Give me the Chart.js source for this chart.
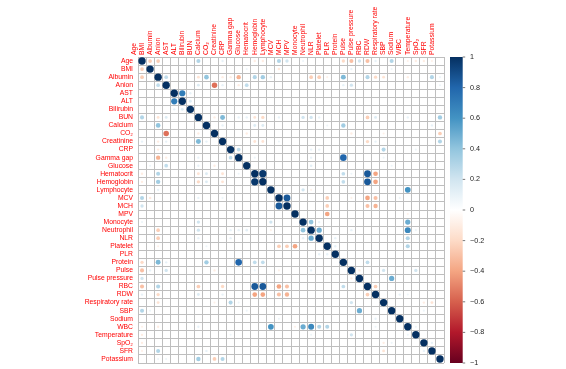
<!DOCTYPE html>
<html>
<head>
<meta charset="utf-8">
<script src="https://cdn.jsdelivr.net/npm/chart.js@4"></script>
<style>
  html, body { margin: 0; padding: 0; background: #fff; }
  canvas { display: block; }
</style>
</head>
<body>
<canvas id="corr" width="566" height="369"></canvas>
<script>
const variables = ['Age', 'BMI', 'Albumin', 'Anion', 'AST', 'ALT', 'Bilirubin', 'BUN', 'Calcium', 'CO₂',
  'Creatinine', 'CRP', 'Gamma gap', 'Glucose', 'Hematocrit', 'Hemoglobin', 'Lymphocyte', 'MCV', 'MCH', 'MPV',
  'Monocyte', 'Neutrophil', 'NLR', 'Platelet', 'PLR', 'Protein', 'Pulse', 'Pulse pressure', 'RBC', 'RDW',
  'Respiratory rate', 'SBP', 'Sodium', 'WBC', 'Temperature', 'SpO₂', 'SFR', 'Potassium'];

// correlations, upper triangle only: [row, col, r]
const pairs = [
  [0, 1, -0.25], [0, 2, -0.25], [0, 7, 0.3], [0, 14, -0.1], [0, 15, -0.1], [0, 17, 0.3], [0, 18, 0.2],
  [0, 25, -0.2], [0, 26, -0.3], [0, 27, 0.2], [0, 28, -0.3], [0, 29, 0.1], [0, 31, 0.3], [0, 34, -0.1], [0, 35, -0.1],
  [0, 10, 0.1], [0, 20, 0.08], [0, 33, -0.08], [0, 36, -0.08],
  [1, 17, -0.12], [1, 26, 0.1], [1, 13, 0.08], [1, 31, 0.08],
  [2, 3, 0.25], [2, 7, -0.15], [2, 8, 0.4], [2, 12, -0.35], [2, 14, 0.3], [2, 15, 0.35], [2, 21, -0.25],
  [2, 22, -0.25], [2, 25, 0.45], [2, 28, 0.3], [2, 29, -0.2], [2, 30, -0.15], [2, 33, -0.1], [2, 36, 0.3],
  [2, 10, -0.1], [2, 11, -0.1], [2, 16, 0.1], [2, 23, -0.08], [2, 37, 0.08],
  [3, 7, 0.15], [3, 9, -0.55], [3, 12, -0.1], [3, 13, 0.25], [3, 25, 0.1], [3, 26, 0.2], [3, 10, 0.1], [3, 37, 0.08],
  [4, 5, 0.7], [4, 6, 0.1], [5, 6, 0.15],
  [7, 10, 0.45], [7, 12, 0.1], [7, 13, 0.1], [7, 14, -0.15], [7, 15, -0.2], [7, 17, 0.1], [7, 20, 0.2],
  [7, 21, 0.2], [7, 22, 0.1], [7, 28, -0.25], [7, 29, 0.15], [7, 33, 0.1], [7, 37, 0.35], [7, 9, -0.1],
  [8, 10, 0.1], [8, 14, 0.15], [8, 15, 0.15], [8, 25, 0.35], [8, 36, 0.1], [8, 23, 0.08],
  [9, 13, -0.1], [9, 26, -0.1], [9, 37, -0.25], [9, 30, -0.08],
  [10, 14, -0.15], [10, 15, -0.15], [10, 28, -0.2], [10, 29, 0.1], [10, 37, 0.3], [10, 17, 0.08],
  [11, 12, 0.25], [11, 21, 0.1], [11, 22, 0.1], [11, 30, 0.3], [11, 34, 0.08],
  [12, 21, 0.1], [12, 25, 0.8], [12, 14, 0.08], [12, 30, 0.08], [13, 21, 0.12], [13, 31, 0.08],
  [14, 15, 0.97], [14, 25, 0.25], [14, 28, 0.85], [14, 29, -0.4], [14, 26, 0.08],
  [15, 25, 0.25], [15, 28, 0.85], [15, 29, -0.4],
  [16, 20, 0.2], [16, 33, 0.6], [16, 21, -0.08],
  [17, 18, 0.85], [17, 23, -0.25], [17, 28, -0.4], [17, 29, -0.3], [17, 26, -0.08], [17, 32, 0.08],
  [18, 23, -0.25], [18, 28, -0.3], [18, 29, -0.35],
  [19, 23, -0.4], [19, 33, -0.08],
  [20, 21, 0.4], [20, 33, 0.5], [20, 22, 0.1],
  [21, 22, 0.5], [21, 33, 0.65], [21, 26, 0.1], [21, 34, 0.08],
  [22, 33, 0.3], [22, 24, 0.1], [23, 33, 0.3], [23, 24, 0.1], [25, 28, 0.25],
  [26, 27, -0.1], [26, 30, 0.2], [26, 34, 0.2],
  [27, 31, 0.5], [28, 29, -0.25], [29, 32, 0.1], [29, 33, 0.08],
  [30, 35, -0.1], [30, 36, -0.15], [31, 35, 0.08], [33, 34, 0.08], [35, 36, 0.1]
];

const colorbarTicks = [1, 0.8, 0.6, 0.4, 0.2, 0, -0.2, -0.4, -0.6, -0.8, -1];

// RdBu palette, -1 -> 1
const rdbu = ['#67001F', '#B2182B', '#D6604D', '#F4A582', '#FDDBC7', '#FFFFFF',
  '#D1E5F0', '#92C5DE', '#4393C3', '#2166AC', '#053061'];

function hex(c) {
  return [1, 3, 5].map(k => parseInt(c.slice(k, k + 2), 16));
}
function corrColor(r) {
  const t = (r + 1) / 2 * 10;
  const i = Math.min(9, Math.floor(t));
  const f = t - i;
  const a = hex(rdbu[i]), b = hex(rdbu[i + 1]);
  const m = a.map((v, k) => Math.round(v + (b[k] - v) * f));
  return 'rgb(' + m.join(',') + ')';
}

const n = variables.length;
const matrix = variables.map((_, i) => variables.map((_, j) => (i === j ? 1 : 0)));
pairs.forEach(([i, j, r]) => { matrix[i][j] = r; matrix[j][i] = r; });

const points = [];
for (let i = 0; i < n; i++) {
  for (let j = 0; j < n; j++) {
    if (matrix[i][j] !== 0) points.push({ x: variables[j], y: variables[i], v: matrix[i][j] });
  }
}

const labelFont = { family: 'Liberation Sans, Arial, sans-serif', size: 6.8 };

const colorbar = {
  id: 'colorbar',
  beforeDatasetsDraw(chart) {
    const { ctx, chartArea } = chart;
    const x0 = 450, w = 12.7;
    const g = ctx.createLinearGradient(0, chartArea.top, 0, chartArea.bottom);
    rdbu.slice().reverse().forEach((c, k) => g.addColorStop(k / 10, c));
    ctx.save();
    ctx.fillStyle = g;
    ctx.fillRect(x0, chartArea.top, w, chartArea.bottom - chartArea.top);
    const cb = chart.scales.cb;
    ctx.strokeStyle = '#555';
    ctx.lineWidth = 0.8;
    colorbarTicks.forEach(v => {
      const y = cb.getPixelForValue(v);
      ctx.beginPath();
      ctx.moveTo(x0 + w, y);
      ctx.lineTo(x0 + w + 2.5, y);
      ctx.stroke();
    });
    ctx.restore();
  }
};

new Chart(document.getElementById('corr'), {
  type: 'bubble',
  data: {
    datasets: [{
      data: points,
      backgroundColor: ctx => corrColor(ctx.raw.v),
      borderWidth: 0,
      radius: ctx => 3.7 * Math.sqrt(Math.abs(ctx.raw.v))
    }]
  },
  options: {
    responsive: false,
    animation: false,
    events: [],
    layout: { padding: { left: 0, right: 62, top: 0, bottom: 6 } },
    plugins: { legend: { display: false }, tooltip: { enabled: false } },
    scales: {
      x: {
        type: 'category',
        labels: variables,
        position: 'top',
        offset: true,
        grid: { offset: true, color: '#bebebe', lineWidth: 1, drawTicks: true, tickLength: 2, tickColor: 'rgba(0,0,0,0)' },
        border: { color: '#bebebe' },
        ticks: { autoSkip: false, minRotation: 90, maxRotation: 90, padding: 0, color: '#ff0000', font: labelFont },
        afterFit: s => { s.height = 57; }
      },
      y: {
        type: 'category',
        labels: variables,
        offset: true,
        grid: { offset: true, color: '#bebebe', lineWidth: 1, drawTicks: true, tickLength: 5, tickColor: 'rgba(0,0,0,0)' },
        border: { color: '#bebebe' },
        ticks: { autoSkip: false, padding: 0, color: '#ff0000', font: labelFont },
        afterFit: s => { s.width = 138; }
      },
      cb: {
        type: 'linear',
        position: 'right',
        min: -1,
        max: 1,
        grid: { display: false, drawTicks: true, tickLength: 26 },
        border: { display: false },
        afterBuildTicks: s => { s.ticks = colorbarTicks.map(v => ({ value: v })); },
        ticks: {
          padding: 0,
          color: '#222',
          font: { family: 'Liberation Sans, Arial, sans-serif', size: 7.2 },
          callback: v => (Math.abs(v) < 1e-9 ? '0' : String(+v.toFixed(1)).replace('-', '\u2212'))
        },
        afterFit: s => { s.width = 60; }
      }
    }
  },
  plugins: [colorbar]
});
</script>
</body>
</html>
